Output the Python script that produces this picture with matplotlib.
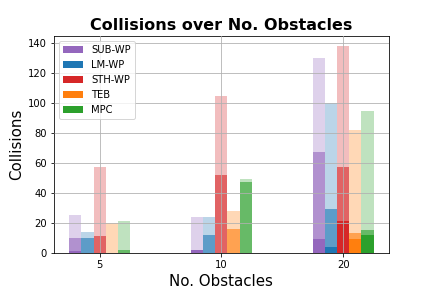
import numpy as np
import matplotlib
matplotlib.use("Agg")
import matplotlib.pyplot as plt

# categorias (numero de obstaculos) e metodos
obstacles = ["5", "10", "20"]
methods = ["SUB-WP", "LM-WP", "STH-WP", "TEB", "MPC"]
colors = ["#9467bd", "#1f77b4", "#d62728", "#ff7f0e", "#2ca02c"]

# colisoes: camada clara (total), media e escura
total_sub = [25, 24, 130]
total_lm = [14, 24, 100]
total_sth = [57, 105, 138]
total_teb = [20, 28, 82]
total_mpc = [21, 49, 95]

mid_sub = [10, 2, 67]
mid_lm = [10, 12, 29]
mid_sth = [11, 52, 57]
mid_teb = [0, 16, 13]
mid_mpc = [2, 47, 15]

dark_sub = [1, 2, 9]
dark_lm = [0, 0, 4]
dark_sth = [0, 0, 21]
dark_teb = [0, 0, 9]
dark_mpc = [0, 0, 12]

totals = [total_sub, total_lm, total_sth, total_teb, total_mpc]
mids = [mid_sub, mid_lm, mid_sth, mid_teb, mid_mpc]
darks = [dark_sub, dark_lm, dark_sth, dark_teb, dark_mpc]

x = np.arange(len(obstacles))
width = 0.1

fig, ax = plt.subplots(figsize=(6, 4), dpi=72)
fig.subplots_adjust(left=0.125, right=0.9, bottom=0.123, top=0.875)

for i in range(len(methods)):
    pos = x + (i - 2) * width
    ax.bar(pos, totals[i], width, color=colors[i], alpha=0.3)
    ax.bar(pos, mids[i], width, color=colors[i], alpha=0.6)
    ax.bar(pos, darks[i], width, color=colors[i], alpha=1.0, label=methods[i])

ax.set_xticks(x)
ax.set_xticklabels(obstacles)
ax.grid(True, color="#b0b0b0")
ax.set_axisbelow(False)
ax.set_title("Collisions over No. Obstacles", fontsize=16, fontweight="bold")
ax.set_xlabel("No. Obstacles", fontsize=15)
ax.set_ylabel("Collisions", fontsize=15)
ax.legend(loc="upper left")

plt.savefig("out.png")
